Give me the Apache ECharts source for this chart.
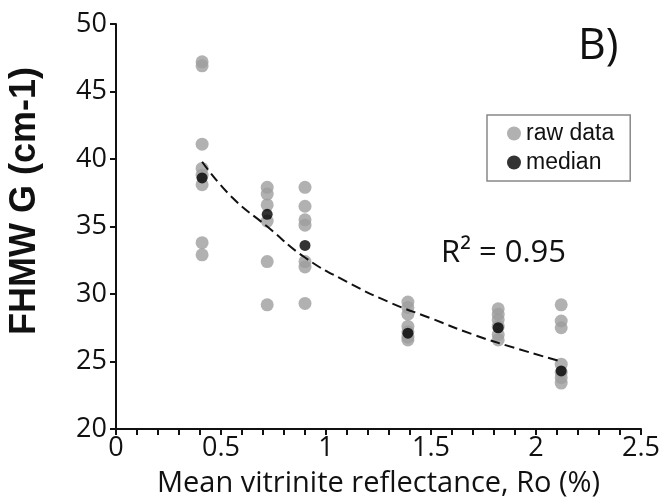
<!DOCTYPE html>
<html>
<head>
<meta charset="utf-8">
<script src="https://cdn.jsdelivr.net/npm/echarts@6/dist/echarts.min.js"></script>
<style>
  html, body { margin: 0; padding: 0; background: #fff; }
  #chart { width: 666px; height: 500px; }
</style>
</head>
<body>
<div id="chart"></div>
<script>
// Ro values of the sample groups
var roValues = [0.41, 0.72, 0.9, 1.39, 1.82, 2.12];

// raw FHMW G values for each group
var rawG = [
  [47.2, 46.9, 41.1, 39.3, 38.8, 38.1, 33.8, 32.9],
  [37.9, 37.4, 36.6, 35.4, 32.4, 29.2],
  [37.9, 36.5, 35.5, 35.1, 32.4, 32.0, 29.3],
  [29.4, 29.0, 28.5, 27.6, 27.2, 26.8, 26.6],
  [28.9, 28.5, 28.1, 27.6, 27.0, 26.6],
  [29.2, 28.0, 27.5, 24.8, 24.2, 23.8, 23.4]
];

// median of each group
var medianG = [38.6, 35.9, 33.6, 27.1, 27.5, 24.3];

// trend curve
var trendX = [0.41, 0.55, 0.72, 0.9, 1.1, 1.3, 1.5, 1.7, 1.9, 2.12];
var trendY = [39.8, 37.2, 35.0, 32.7, 30.9, 29.4, 28.2, 27.0, 26.0, 25.0];

var rawData = [];
roValues.forEach(function (ro, i) {
  rawG[i].forEach(function (g) { rawData.push([ro, g]); });
});
var medianData = roValues.map(function (ro, i) { return [ro, medianG[i]]; });
var trendData = trendX.map(function (x, i) { return [x, trendY[i]]; });

var myChart = echarts.init(document.getElementById('chart'));

var option = {
  backgroundColor: '#fff',
  animation: false,
  grid: { left: 116, right: 25, top: 24, bottom: 71, outerBoundsMode: 'none' },
  legend: {
    orient: 'vertical',
    left: 487,
    top: 115,
    data: ['raw data', 'median'],
    icon: 'circle',
    itemWidth: 14,
    itemHeight: 14,
    itemGap: 6,
    padding: [7, 16, 7, 20],
    borderColor: '#888',
    borderWidth: 1.5,
    textStyle: { fontFamily: 'Liberation Sans', fontSize: 23, color: '#111' }
  },
  xAxis: {
    type: 'value',
    min: 0, max: 2.5, interval: 0.5,
    name: 'Mean vitrinite reflectance, Ro (%)',
    nameLocation: 'middle',
    nameGap: 40,
    nameTextStyle: { fontFamily: 'Open Sans', fontSize: 29, color: '#111' },
    axisLine: { lineStyle: { color: '#111', width: 2 } },
    axisTick: { show: true, length: 6, inside: false, lineStyle: { color: '#111', width: 2 } },
    minorTick: { show: true, splitNumber: 5, length: 6, lineStyle: { color: '#111', width: 2 } },
    axisLabel: { fontFamily: 'Open Sans', fontSize: 27, color: '#111', margin: 6 },
    splitLine: { show: false }
  },
  yAxis: {
    type: 'value',
    min: 20, max: 50, interval: 5,
    axisLine: { show: true, lineStyle: { color: '#111', width: 2 } },
    axisTick: { show: true, length: 6, lineStyle: { color: '#111', width: 2 } },
    axisLabel: { fontFamily: 'Open Sans', fontSize: 27, color: '#111', margin: 9 },
    splitLine: { show: false }
  },
  graphic: [
    {
      type: 'text', x: 25, y: 201, rotation: Math.PI / 2,
      style: {
        text: 'FHMW G (cm-1)', font: 'bold 36px "Liberation Sans"', fill: '#111',
        align: 'center', verticalAlign: 'middle'
      }
    },
    {
      type: 'text', left: 578, top: 25,
      style: { text: 'B)', font: '43px "Open Sans"', fill: '#111' }
    },
    {
      type: 'text', left: 441, top: 238,
      style: { text: 'R² = 0.95', font: '31px "Open Sans"', fill: '#111' }
    }
  ],
  series: [
    {
      name: 'raw data',
      type: 'scatter',
      data: rawData,
      symbolSize: 13,
      itemStyle: { color: '#9e9e9e' },
      z: 2
    },
    {
      name: 'trend',
      type: 'line',
      data: trendData,
      smooth: true,
      showSymbol: false,
      lineStyle: { color: '#111', width: 2, type: [10, 5] },
      z: 3
    },
    {
      name: 'median',
      type: 'scatter',
      data: medianData,
      symbolSize: 11,
      itemStyle: { color: '#000' },
      z: 4
    }
  ]
};

myChart.setOption(option);
</script>
</body>
</html>
